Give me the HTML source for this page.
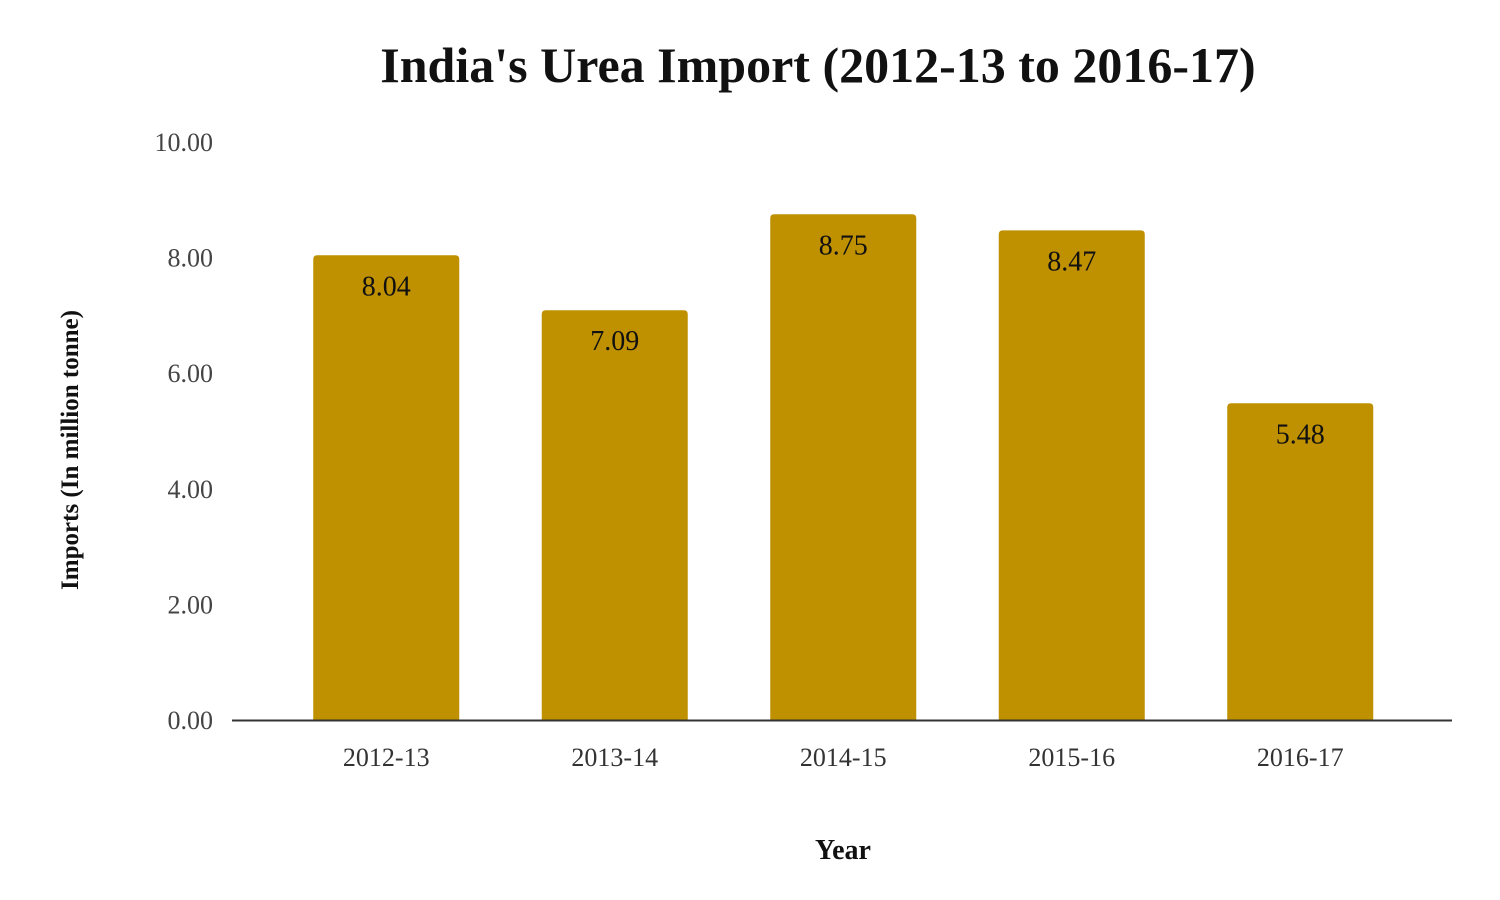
<!DOCTYPE html>
<html><head><meta charset="utf-8"><style>
body{margin:0;background:#fff}
svg{display:block;font-family:"Liberation Serif",serif}
</style></head><body>
<svg id="chart" width="1500" height="900">
<text x="818" y="82" text-anchor="middle" font-size="50" font-weight="bold" fill="#111">India's Urea Import (2012-13 to 2016-17)</text>
<text transform="translate(78,450) rotate(-90)" text-anchor="middle" font-size="25" font-weight="bold" fill="#111">Imports (In million tonne)</text>
<text x="843" y="859" text-anchor="middle" font-size="28" font-weight="bold" fill="#111">Year</text>
<g id="yticks"></g><g id="bars"></g><g id="xlabels"></g>
<line x1="232" y1="720.5" x2="1452" y2="720.5" stroke="#333" stroke-width="2"/>
</svg>
<script>
const categories=["2012-13","2013-14","2014-15","2015-16","2016-17"];
const values=[8.04,7.09,8.75,8.47,5.48];
const valueLabels=["8.04","7.09","8.75","8.47","5.48"];
const yTicks=[0,2,4,6,8,10];
const yTickLabels=["0.00","2.00","4.00","6.00","8.00","10.00"];
const NS="http://www.w3.org/2000/svg";
const y0=720,pxPerUnit=57.8,x0=272,band=228.5,bw=146;
const y=v=>y0-v*pxPerUnit;
const xc=i=>x0+band*(i+0.5);
function mk(tag,attrs,parent,text){const e=document.createElementNS(NS,tag);for(const k in attrs)e.setAttribute(k,attrs[k]);if(text!=null)e.textContent=text;parent.appendChild(e);return e;}
const yt=document.getElementById('yticks');
yTicks.forEach((t,i)=>{
 const e=mk('text',{x:213,y:y(t)+9,'text-anchor':'end','font-size':26,fill:'#444'},yt,yTickLabels[i]);
 
 
});
const bg=document.getElementById('bars'),xl=document.getElementById('xlabels');
values.forEach((v,i)=>{
 const top=y(v),h=y0-top,l=xc(i)-bw/2,r=4;
 const p=mk('path',{d:`M${l},${y0}V${top+r}Q${l},${top} ${l+r},${top}H${l+bw-r}Q${l+bw},${top} ${l+bw},${top+r}V${y0}Z`,fill:'#bf9000'},bg);
 
 
 const t=mk('text',{x:xc(i),y:top+40,'text-anchor':'middle','font-size':28,fill:'#111'},bg,valueLabels[i]);
 
 
 const c=mk('text',{x:xc(i),y:766,'text-anchor':'middle','font-size':26,fill:'#333'},xl,categories[i]);
 
 
});
</script>
</body></html>
